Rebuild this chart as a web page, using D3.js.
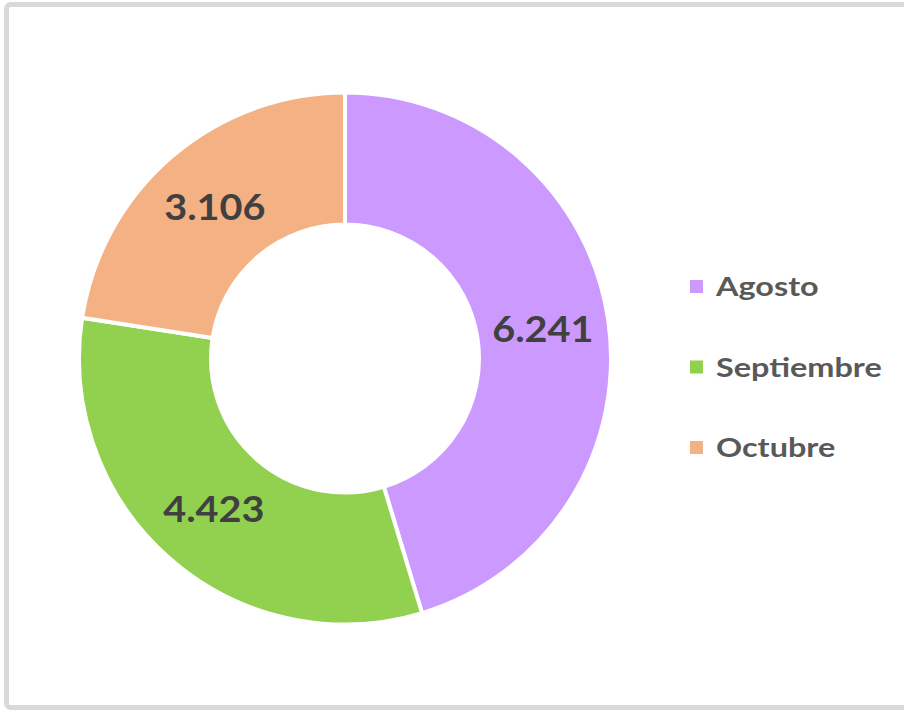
<!DOCTYPE html>
<html>
<head>
<meta charset="utf-8">
<script src="https://cdn.jsdelivr.net/npm/d3@7"></script>
<style>
  body { margin: 0; background: #fff; }
  svg { display: block; }
</style>
</head>
<body>
<svg id="chart" width="904" height="711"></svg>
<script>
// data
const months = ["Agosto", "Septiembre", "Octubre"];
const values = [6241, 4423, 3106];
const labels = ["6.241", "4.423", "3.106"];
const colors = ["#cc99ff", "#92d050", "#f4b183"];

const svg = d3.select("#chart");

// outer frame
svg.append("rect")
    .attr("x", 6.5)
    .attr("y", 4.5)
    .attr("width", 920)
    .attr("height", 703)
    .attr("rx", 4)
    .style("fill", "#fff")
    .style("stroke", "#d9d9d9")
    .style("stroke-width", 5);

const cx = 345, cy = 358.5;
const outerR = 266, innerR = 134;

const pie = d3.pie().sort(null).value(d => d);
const arc = d3.arc().innerRadius(innerR).outerRadius(outerR);
const labelArc = d3.arc().innerRadius((innerR + outerR) / 2).outerRadius((innerR + outerR) / 2);

const g = svg.append("g").attr("transform", "translate(" + cx + "," + cy + ")");

const slices = g.selectAll(".slice")
    .data(pie(values))
    .enter().append("g")
    .attr("class", "slice");

slices.append("path")
    .attr("d", arc)
    .style("fill", (d, i) => colors[i])
    .style("stroke", "#fff")
    .style("stroke-width", 4);

// calibri-ish look: Lato stretched a bit wider
slices.append("text")
    .attr("transform", d => "translate(" + labelArc.centroid(d) + ") scale(1.1,1)")
    .attr("text-anchor", "middle")
    .attr("dy", "0.36em")
    .style("font-family", "Lato, 'Open Sans', sans-serif")
    .style("font-weight", "bold")
    .style("font-size", "36px")
    .style("fill", "#404040")
    .text((d, i) => labels[i]);

// legend
const legend = svg.append("g").attr("transform", "translate(690,0)");
const rowY = d3.scalePoint().domain(months).range([287, 448]);

const items = legend.selectAll(".item")
    .data(months)
    .enter().append("g")
    .attr("class", "item")
    .attr("transform", d => "translate(0," + rowY(d) + ")");

items.append("rect")
    .attr("x", 0)
    .attr("y", -7)
    .attr("width", 13)
    .attr("height", 13)
    .style("fill", (d, i) => colors[i]);

items.append("text")
    .attr("transform", "translate(26,0) scale(1.2,1)")
    .attr("dy", "0.35em")
    .style("font-family", "Lato, 'Open Sans', sans-serif")
    .style("font-weight", "bold")
    .style("font-size", "27px")
    .style("fill", "#595959")
    .text(d => d);
</script>
</body>
</html>
